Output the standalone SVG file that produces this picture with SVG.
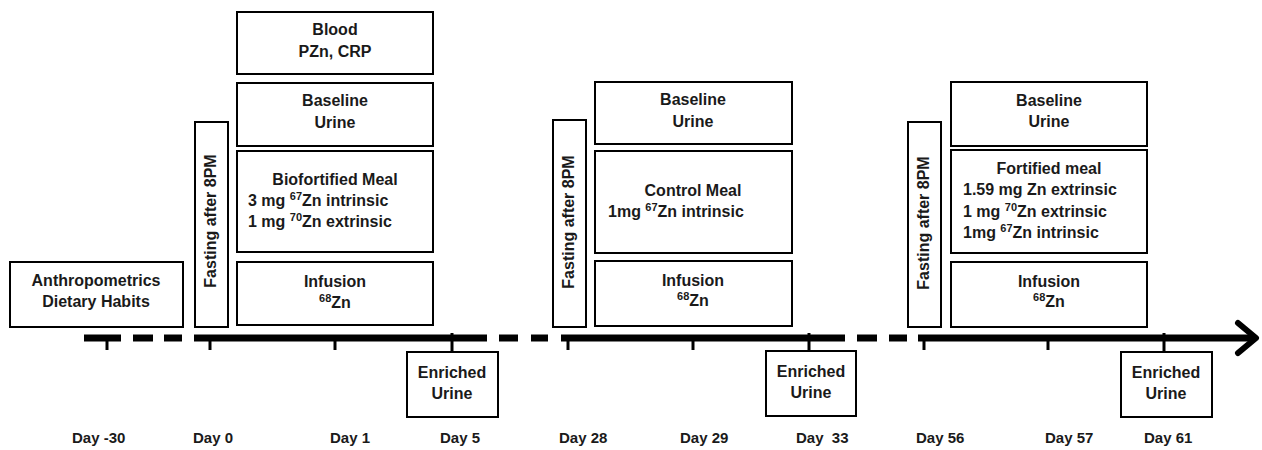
<svg xmlns="http://www.w3.org/2000/svg" width="1262" height="450" viewBox="0 0 1262 450">
<style>
.box{fill:#fff;stroke:#000;stroke-width:2}
.t{font-family:"Liberation Sans",Arial,sans-serif;font-weight:bold;font-size:16px;fill:#1a1a1a}
.c{text-anchor:middle}
.d{font-family:"Liberation Sans",Arial,sans-serif;font-weight:bold;font-size:15px;fill:#1a1a1a;white-space:pre}
.ax{stroke:#000;stroke-width:7;fill:none}
.tk{stroke:#000;stroke-width:3}
</style>
<rect width="1262" height="450" fill="#fff"/>
<g id="connectors">
  <line class="ax" x1="84" y1="338" x2="121" y2="338"/>
  <line class="ax" x1="133" y1="338" x2="153" y2="338"/>
  <line class="ax" x1="164" y1="338" x2="182" y2="338"/>
  <line class="ax" x1="194" y1="338" x2="487" y2="338"/>
  <line class="ax" x1="499" y1="338" x2="518" y2="338"/>
  <line class="ax" x1="531" y1="338" x2="548" y2="338"/>
  <line class="ax" x1="561" y1="338" x2="845" y2="338"/>
  <line class="ax" x1="857" y1="338" x2="877" y2="338"/>
  <line class="ax" x1="889" y1="338" x2="907" y2="338"/>
  <line class="ax" x1="918" y1="338" x2="1254" y2="338"/>
  <polyline points="1238,323 1256,338 1238,353" fill="none" stroke="#000" stroke-width="6" stroke-linecap="round" stroke-linejoin="round"/>
  <line class="tk" x1="107" y1="338" x2="107" y2="350"/>
  <line class="tk" x1="210" y1="338" x2="210" y2="350"/>
  <line class="tk" x1="335" y1="338" x2="335" y2="350"/>
  <line class="tk" x1="452" y1="333" x2="452" y2="352"/>
  <line class="tk" x1="568" y1="338" x2="568" y2="350"/>
  <line class="tk" x1="693" y1="338" x2="693" y2="350"/>
  <line class="tk" x1="809" y1="333" x2="809" y2="351"/>
  <line class="tk" x1="924" y1="338" x2="924" y2="350"/>
  <line class="tk" x1="1048" y1="338" x2="1048" y2="350"/>
  <line class="tk" x1="1164" y1="333" x2="1164" y2="352"/>
</g>
<g id="anthropometrics">
  <rect class="box" x="10" y="262" width="173" height="65"/>
  <text class="t c" x="96" y="286">Anthropometrics</text>
  <text class="t c" x="96" y="307">Dietary Habits</text>
</g>
<g id="fasting1">
  <rect class="box" x="195" y="122" width="33" height="205"/>
  <text class="t c" transform="translate(216,221) rotate(-90)">Fasting after 8PM</text>
</g>
<g id="blood">
  <rect class="box" x="237" y="12" width="196" height="62"/>
  <text class="t c" x="335" y="35">Blood</text>
  <text class="t c" x="335" y="57">PZn, CRP</text>
</g>
<g id="baseline1">
  <rect class="box" x="237" y="83" width="196" height="63"/>
  <text class="t c" x="335" y="106">Baseline</text>
  <text class="t c" x="335" y="128">Urine</text>
</g>
<g id="biofortified">
  <rect class="box" x="237" y="151" width="196" height="101"/>
  <text class="t c" x="335" y="185">Biofortified Meal</text>
  <text class="t" x="248" y="206">3 mg <tspan font-size="11" dy="-6">67</tspan><tspan dy="6">Zn intrinsic</tspan></text>
  <text class="t" x="248" y="227">1 mg <tspan font-size="11" dy="-6">70</tspan><tspan dy="6">Zn extrinsic</tspan></text>
</g>
<g id="infusion1">
  <rect class="box" x="237" y="262" width="196" height="63"/>
  <text class="t c" x="335" y="287">Infusion</text>
  <text class="t c" x="335" y="308"><tspan font-size="11" dy="-6">68</tspan><tspan dy="6">Zn</tspan></text>
</g>
<g id="enriched1">
  <rect class="box" x="407" y="352" width="91" height="65"/>
  <text class="t c" x="452" y="378">Enriched</text>
  <text class="t c" x="452" y="399">Urine</text>
</g>
<g id="fasting2">
  <rect class="box" x="553" y="120" width="33" height="207"/>
  <text class="t c" transform="translate(574,222) rotate(-90)">Fasting after 8PM</text>
</g>
<g id="baseline2">
  <rect class="box" x="595" y="82" width="197" height="62"/>
  <text class="t c" x="693" y="105">Baseline</text>
  <text class="t c" x="693" y="127">Urine</text>
</g>
<g id="control">
  <rect class="box" x="595" y="151" width="197" height="102"/>
  <text class="t c" x="693" y="196">Control Meal</text>
  <text class="t" x="608" y="217">1mg <tspan font-size="11" dy="-6">67</tspan><tspan dy="6">Zn intrinsic</tspan></text>
</g>
<g id="infusion2">
  <rect class="box" x="595" y="261" width="197" height="65"/>
  <text class="t c" x="693" y="286">Infusion</text>
  <text class="t c" x="693" y="306"><tspan font-size="11" dy="-6">68</tspan><tspan dy="6">Zn</tspan></text>
</g>
<g id="enriched2">
  <rect class="box" x="766" y="351" width="90" height="65"/>
  <text class="t c" x="811" y="377">Enriched</text>
  <text class="t c" x="811" y="398">Urine</text>
</g>
<g id="fasting3">
  <rect class="box" x="908" y="122" width="33" height="205"/>
  <text class="t c" transform="translate(929,223) rotate(-90)">Fasting after 8PM</text>
</g>
<g id="baseline3">
  <rect class="box" x="951" y="82" width="196" height="64"/>
  <text class="t c" x="1049" y="106">Baseline</text>
  <text class="t c" x="1049" y="127">Urine</text>
</g>
<g id="fortified">
  <rect class="box" x="951" y="150" width="196" height="103"/>
  <text class="t c" x="1049" y="174">Fortified meal</text>
  <text class="t" x="963" y="195">1.59 mg Zn extrinsic</text>
  <text class="t" x="963" y="217">1 mg <tspan font-size="11" dy="-6">70</tspan><tspan dy="6">Zn extrinsic</tspan></text>
  <text class="t" x="963" y="238">1mg <tspan font-size="11" dy="-6">67</tspan><tspan dy="6">Zn intrinsic</tspan></text>
</g>
<g id="infusion3">
  <rect class="box" x="951" y="262" width="196" height="65"/>
  <text class="t c" x="1049" y="287">Infusion</text>
  <text class="t c" x="1049" y="307"><tspan font-size="11" dy="-6">68</tspan><tspan dy="6">Zn</tspan></text>
</g>
<g id="enriched3">
  <rect class="box" x="1121" y="352" width="91" height="65"/>
  <text class="t c" x="1166" y="378">Enriched</text>
  <text class="t c" x="1166" y="399">Urine</text>
</g>
<g id="days">
  <text class="d" x="72" y="443">Day -30</text>
  <text class="d" x="193" y="443">Day 0</text>
  <text class="d" x="330" y="443">Day 1</text>
  <text class="d" x="440" y="443">Day 5</text>
  <text class="d" x="559" y="443">Day 28</text>
  <text class="d" x="680" y="443">Day 29</text>
  <text class="d" x="796" y="443" xml:space="preserve">Day  33</text>
  <text class="d" x="916" y="443">Day 56</text>
  <text class="d" x="1045" y="443">Day 57</text>
  <text class="d" x="1144" y="443">Day 61</text>
</g>
</svg>
